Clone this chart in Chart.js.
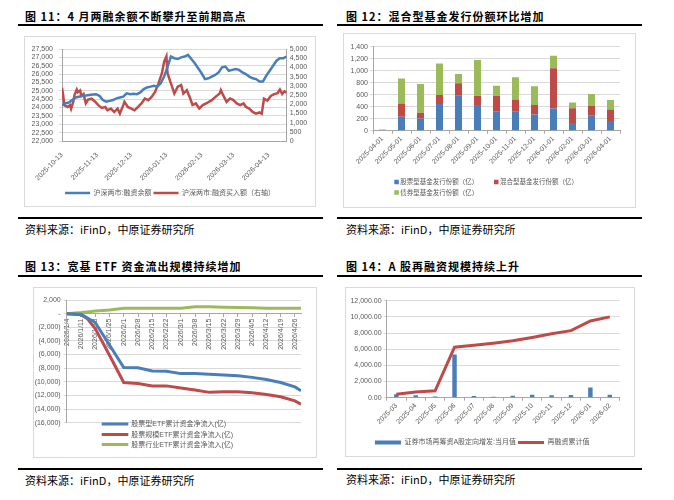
<!DOCTYPE html>
<html><head><meta charset="utf-8">
<script src="https://cdn.jsdelivr.net/npm/chart.js@4.4.1/dist/chart.umd.min.js"></script>
<style>
body{margin:0;background:#fff;width:674px;height:500px;position:relative;overflow:hidden;font-family:'Noto Sans CJK SC',sans-serif;}
.title{position:absolute;font-weight:bold;font-size:11px;line-height:16px;letter-spacing:1px;color:#000;white-space:nowrap;}
.src{position:absolute;font-size:11px;line-height:16px;color:#000;white-space:nowrap;}
.rule{position:absolute;background:#000;}
.box{position:absolute;border:1px solid #d9d9d9;box-sizing:border-box;}
canvas{position:absolute;}
</style></head>
<body>
<div class="title" style="left:25px;top:8px;">图 11：4 月两融余额不断攀升至前期高点</div>
<div class="rule" style="left:18px;top:24px;width:305px;height:2px;"></div>
<div class="box" style="left:24px;top:36px;width:292px;height:171px;"></div>
<canvas id="c1" width="292" height="171" style="left:24px;top:36px;"></canvas>
<div class="rule" style="left:18px;top:217px;width:305px;height:1.5px;"></div>
<div class="src" style="left:25px;top:221px;">资料来源：iFinD，中原证券研究所</div>

<div class="title" style="left:346px;top:7.5px;">图 12：混合型基金发行份额环比增加</div>
<div class="rule" style="left:337px;top:24px;width:305px;height:2px;"></div>
<div class="box" style="left:343px;top:33px;width:293px;height:175px;"></div>
<canvas id="c2" width="293" height="175" style="left:343px;top:33px;"></canvas>
<div class="rule" style="left:337px;top:217px;width:305px;height:1.5px;"></div>
<div class="src" style="left:346px;top:221px;">资料来源：iFinD，中原证券研究所</div>

<div class="title" style="left:25px;top:258px;">图 13：宽基 ETF 资金流出规模持续增加</div>
<div class="rule" style="left:18px;top:275px;width:305px;height:2px;"></div>
<div class="box" style="left:33px;top:287px;width:284px;height:171px;"></div>
<canvas id="c3" width="284" height="171" style="left:33px;top:287px;"></canvas>
<div class="rule" style="left:18px;top:468px;width:305px;height:1.5px;"></div>
<div class="src" style="left:25px;top:471.5px;">资料来源：iFinD，中原证券研究所</div>

<div class="title" style="left:346px;top:257.5px;">图 14：A 股再融资规模持续上升</div>
<div class="rule" style="left:337px;top:275px;width:305px;height:2px;"></div>
<div class="box" style="left:345px;top:287px;width:290px;height:170px;"></div>
<canvas id="c4" width="290" height="170" style="left:345px;top:287px;"></canvas>
<div class="rule" style="left:337px;top:468px;width:305px;height:1.5px;"></div>
<div class="src" style="left:346px;top:471px;">资料来源：iFinD，中原证券研究所</div>

<script>
// ---------- Chart 1 data ----------
const c1Names = ['沪深两市:融资余额', '沪深两市:融资买入额（右轴）'];
const c1TickDays = [0, 31, 61, 92, 123, 151, 182];
const c1TickLabels = ['2025-10-13', '2025-11-13', '2025-12-13', '2026-01-13', '2026-02-13', '2026-03-13', '2026-04-13'];
const c1EndDay = 198;
const c1MarginDays = [0,3,6,9,12,15,18,21,24,27,30,33,36,39,42,45,48,51,54,57,60,63,66,69,72,75,78,81,84,87,90,93,96,99,102,105,108,111,114,117,120,123,126,129,132,135,138,141,144,147,150,153,156,159,162,165,168,171,174,177,180,183,186,189,192,195,198];
const c1Margin = [24150,24250,24300,24450,24600,24650,24700,24720,24750,24780,24800,24700,24450,24350,24400,24450,24550,24600,24650,24850,24800,24820,24800,24900,25100,25200,25250,25300,25250,25450,25850,26450,27050,26950,26900,27000,27050,27150,26900,26650,26350,26050,25700,25750,25850,25950,26100,26400,26450,26200,26250,26300,26250,26100,26000,25850,25750,25700,25550,25550,25900,26200,26500,26800,26950,26950,27050];
const c1BuyDays = [0,1,2,5,7,8,10,11,13,14,16,17,19,21,23,26,29,32,35,38,40,43,46,49,51,54,55,58,61,64,67,70,73,76,79,82,85,88,90,92,93,96,99,102,105,107,110,113,115,118,121,124,127,132,136,139,140,142,145,148,151,154,157,160,162,165,168,171,174,176,178,181,184,187,190,192,194,196,198];
const c1Buy = [2900,2500,1950,1850,1950,1750,2150,2500,2800,2650,2750,2450,2550,2050,2250,2300,2150,1950,1800,1850,1670,1760,1580,1760,1490,1950,2130,1850,1760,1670,1850,2040,2310,2220,2400,2670,3130,3670,4310,4600,3670,3130,2580,2950,3040,2580,2760,2310,1950,2040,1760,1950,2040,2220,2440,2580,2760,2490,2130,2310,2220,2040,1950,2040,1860,1760,1580,1490,1550,1480,2300,2200,2450,2550,2600,2800,2550,2700,2620];

// ---------- Chart 2 data ----------
const c2Categories = ['2025-04-01','2025-05-01','2025-06-01','2025-07-01','2025-08-01','2025-09-01','2025-10-01','2025-11-01','2025-12-01','2026-01-01','2026-02-01','2026-03-01','2026-04-01'];
const c2Names = ['股票型基金发行份额（亿）', '混合型基金发行份额（亿）', '债券型基金发行份额（亿）'];
const c2Stock = [0,233,205,444,583,428,317,317,272,372,130,250,160];
const c2Mixed = [0,222,95,150,206,155,266,205,156,667,245,160,195];
const c2Bond  = [18,417,478,528,155,597,167,367,312,211,95,200,155];

// ---------- Chart 3 data ----------
const c3Names = ['股票型ETF累计资金净流入(亿)', '股票规模ETF累计资金净流入(亿)', '股票行业ETF累计资金净流入(亿)'];
const c3TickDays = [0,7,14,21,28,35,42,49,56,63,70,77,84,91,98,105,112];
const c3TickLabels = ['2026/1/4','2026/1/11','2026/1/18','2026/1/25','2026/2/1','2026/2/8','2026/2/15','2026/2/22','2026/3/1','2026/3/8','2026/3/15','2026/3/22','2026/3/29','2026/4/5','2026/4/12','2026/4/19','2026/4/26'];
const c3EndDay = 115;
const c3Days  = [0,7,10,14,21,28,35,42,49,56,63,70,77,84,91,98,105,112,115];
const c3Stock = [0,-100,-600,-1300,-4600,-7900,-7950,-8400,-8450,-8800,-8800,-8900,-9000,-9100,-9350,-9650,-10100,-10750,-11300];
const c3Broad = [0,-150,-700,-2200,-6100,-10100,-10250,-10600,-10600,-10900,-11200,-11550,-11450,-11450,-11600,-11850,-12200,-12800,-13300];
const c3Sector= [0,150,250,400,550,800,800,800,800,800,1000,1000,950,900,850,800,800,800,780];

// ---------- Chart 4 data ----------
const c4Months = ['2025-03','2025-04','2025-05','2025-06','2025-07','2025-08','2025-09','2025-10','2025-11','2025-12','2026-01','2026-02'];
const c4Names = ['证券市场再筹资A股定向增发:当月值', '再融资累计值'];
const c4Monthly = [420,300,150,5350,200,120,230,380,300,320,1250,380];
const c4Cumulative = [420,700,860,6250,6500,6750,7050,7450,7900,8300,9500,10000];

// ---------- styling ----------
const FONT = "'Liberation Sans','Noto Sans CJK SC',sans-serif";
const BLUE = '#4A7EBB', RED = '#BE4B48', GREEN = '#9BBB59';
const GRID = '#d9d9d9', AXIS = '#a6a6a6', TXT = '#595959';
const tf = {family: FONT, size: 7};
const fmt = v => Number(v).toLocaleString('en-US');
const fixW = w => s => { s.width = w; s.paddingLeft = s.paddingRight = s.paddingTop = s.paddingBottom = 0; };
const fixH = h => s => { s.height = h; s.paddingLeft = s.paddingRight = s.paddingTop = s.paddingBottom = 0; };
const base = {responsive: false, animation: false, devicePixelRatio: 1, events: []};

const customLegend = {
  id: 'customLegend',
  afterDraw(chart, args, opts) {
    const ctx = chart.ctx;
    ctx.save();
    ctx.font = opts.fontSize + 'px ' + FONT;
    ctx.textBaseline = 'middle';
    ctx.textAlign = 'left';
    opts.items.forEach(it => {
      const ds = chart.data.datasets[it.i];
      if (opts.kind === 'line') {
        ctx.strokeStyle = ds.borderColor; ctx.lineWidth = 3;
        ctx.beginPath(); ctx.moveTo(it.x, it.y); ctx.lineTo(it.x + opts.w, it.y); ctx.stroke();
      } else {
        ctx.fillStyle = ds.backgroundColor;
        ctx.fillRect(it.x, it.y - opts.w / 2, opts.w, opts.w);
      }
      ctx.fillStyle = TXT;
      ctx.fillText(ds.label, it.x + opts.w + opts.gap, it.y + 0.5);
    });
    ctx.restore();
  }
};

// ---------- Chart 1 ----------
new Chart(document.getElementById('c1'), {
  type: 'line',
  data: {datasets: [
    {label: c1Names[0], data: c1MarginDays.map((d, i) => ({x: d, y: c1Margin[i]})), yAxisID: 'y', borderColor: BLUE, backgroundColor: BLUE, borderWidth: 2.5, pointRadius: 0, tension: 0},
    {label: c1Names[1], data: c1BuyDays.map((d, i) => ({x: d, y: c1Buy[i]})), yAxisID: 'y1', borderColor: RED, backgroundColor: RED, borderWidth: 2.5, pointRadius: 0, tension: 0}
  ]},
  options: Object.assign({}, base, {
    layout: {padding: {left: 0, right: 0, top: 13, bottom: 0.5}},
    plugins: {
      tooltip: {enabled: false},
      legend: {position: 'bottom', labels: {usePointStyle: true, pointStyle: 'line', pointStyleWidth: 25, boxHeight: 4, padding: 2, font: tf, color: TXT}}
    },
    scales: {
      x: {type: 'linear', min: 0, max: c1EndDay,
          afterBuildTicks: s => { s.ticks = c1TickDays.map(v => ({value: v})); },
          ticks: {callback: (v, i) => c1TickLabels[i], font: tf, color: TXT, minRotation: 45, maxRotation: 45, autoSkip: false, padding: 2},
          grid: {display: false}, border: {color: AXIS}, afterFit: fixH(46.5)},
      y: {position: 'left', min: 22000, max: 27500,
          ticks: {stepSize: 500, autoSkip: false, callback: fmt, font: tf, color: TXT, padding: 6},
          grid: {color: GRID, tickLength: 3}, border: {color: AXIS}, afterFit: fixW(38)},
      y1: {position: 'right', min: 0, max: 5000,
          ticks: {stepSize: 500, autoSkip: false, callback: fmt, font: tf, color: TXT, padding: 3},
          grid: {display: false, drawTicks: false}, border: {color: AXIS}, afterFit: fixW(29.3)}
    }
  })
});

// ---------- Chart 2 ----------
new Chart(document.getElementById('c2'), {
  type: 'bar',
  data: {labels: c2Categories, datasets: [
    {label: c2Names[0], data: c2Stock, backgroundColor: BLUE, barPercentage: 0.37, categoryPercentage: 1},
    {label: c2Names[1], data: c2Mixed, backgroundColor: RED, barPercentage: 0.37, categoryPercentage: 1},
    {label: c2Names[2], data: c2Bond, backgroundColor: GREEN, barPercentage: 0.37, categoryPercentage: 1}
  ]},
  options: Object.assign({}, base, {
    layout: {padding: {left: 0, right: 16, top: 13.7, bottom: 0}},
    plugins: {
      tooltip: {enabled: false}, legend: {display: false},
      customLegend: {kind: 'rect', w: 4.5, gap: 1.5, fontSize: 6.5, items: [{i: 0, x: 51.3, y: 149}, {i: 1, x: 151, y: 149}, {i: 2, x: 51.3, y: 159.5}]}
    },
    scales: {
      x: {stacked: true, ticks: {font: tf, color: TXT, minRotation: 45, maxRotation: 45, autoSkip: false, padding: 1},
          grid: {drawOnChartArea: false, tickLength: 3, color: AXIS}, border: {color: AXIS}, afterFit: fixH(77.3)},
      y: {stacked: true, min: 0, max: 1400, ticks: {stepSize: 200, autoSkip: false, callback: fmt, font: tf, color: TXT, padding: 2},
          grid: {color: GRID, tickLength: 3}, border: {color: AXIS}, afterFit: fixW(30)}
    }
  }),
  plugins: [customLegend]
});

// ---------- Chart 3 ----------
const acct = v => v === 0 ? '-' : (v < 0 ? '(' + fmt(-v) + ')' : fmt(v));
new Chart(document.getElementById('c3'), {
  type: 'line',
  data: {datasets: [
    {label: c3Names[0], data: c3Days.map((d, i) => ({x: d, y: c3Stock[i]})), borderColor: BLUE, backgroundColor: BLUE, borderWidth: 3, pointRadius: 0, tension: 0},
    {label: c3Names[1], data: c3Days.map((d, i) => ({x: d, y: c3Broad[i]})), borderColor: RED, backgroundColor: RED, borderWidth: 3, pointRadius: 0, tension: 0},
    {label: c3Names[2], data: c3Days.map((d, i) => ({x: d, y: c3Sector[i]})), borderColor: GREEN, backgroundColor: GREEN, borderWidth: 3, pointRadius: 0, tension: 0}
  ]},
  options: Object.assign({}, base, {
    layout: {padding: {left: 0, right: 16, top: 13, bottom: 35.3}},
    plugins: {
      tooltip: {enabled: false}, legend: {display: false},
      customLegend: {kind: 'line', w: 26.6, gap: 3, fontSize: 7, items: [{i: 0, x: 68.7, y: 137}, {i: 1, x: 68.7, y: 147.5}, {i: 2, x: 68.7, y: 157.5}]}
    },
    scales: {
      x: {type: 'linear', min: 0, max: c3EndDay, position: {y: 0},
          afterBuildTicks: s => { s.ticks = c3TickDays.map(v => ({value: v})); },
          ticks: {callback: (v, i) => c3TickLabels[i], font: tf, color: TXT, minRotation: 90, maxRotation: 90, autoSkip: false, padding: 2},
          grid: {drawOnChartArea: false, tickLength: 3, color: AXIS}, border: {color: AXIS},
          afterFit: s => { s.paddingLeft = s.paddingRight = 0; }},
      y: {min: -16000, max: 2000, ticks: {stepSize: 2000, autoSkip: false, callback: acct, font: tf, color: TXT, padding: 3},
          grid: {color: GRID, tickLength: 3}, border: {color: AXIS}, afterFit: fixW(33.7)}
    }
  }),
  plugins: [customLegend]
});

// ---------- Chart 4 ----------
new Chart(document.getElementById('c4'), {
  type: 'bar',
  data: {labels: c4Months, datasets: [
    {type: 'bar', label: c4Names[0], data: c4Monthly, backgroundColor: BLUE, borderColor: BLUE, borderWidth: 0, barPercentage: 0.23, categoryPercentage: 1, order: 2},
    {type: 'line', label: c4Names[1], data: c4Cumulative, borderColor: RED, backgroundColor: RED, borderWidth: 3, pointRadius: 0, tension: 0, order: 1}
  ]},
  options: Object.assign({}, base, {
    layout: {padding: {left: 0, right: 15.5, top: 13.7, bottom: 1}},
    plugins: {
      tooltip: {enabled: false},
      legend: {position: 'bottom', labels: {
        usePointStyle: true, pointStyleWidth: 26, boxHeight: 4, padding: 2, font: tf, color: TXT,
        sort: (a, b) => a.datasetIndex - b.datasetIndex,
        generateLabels: chart => Chart.defaults.plugins.legend.labels.generateLabels(chart).map(it => {
          const ds = chart.data.datasets[it.datasetIndex];
          it.pointStyle = ds.type === 'bar' ? 'rect' : 'line';
          if (ds.type === 'bar') it.lineWidth = 0;
          return it;
        })
      }}
    },
    scales: {
      x: {ticks: {font: tf, color: TXT, minRotation: 45, maxRotation: 45, autoSkip: false, padding: 1},
          grid: {drawOnChartArea: false, tickLength: 3, color: AXIS}, border: {color: AXIS}, afterFit: fixH(39.3)},
      y: {min: 0, max: 12000, ticks: {stepSize: 2000, autoSkip: false, callback: v => Number(v).toLocaleString('en-US', {minimumFractionDigits: 2, maximumFractionDigits: 2}), font: tf, color: TXT, padding: 2},
          grid: {color: GRID, tickLength: 3}, border: {color: AXIS}, afterFit: fixW(41.6)}
    }
  })
});
</script>
</body></html>
